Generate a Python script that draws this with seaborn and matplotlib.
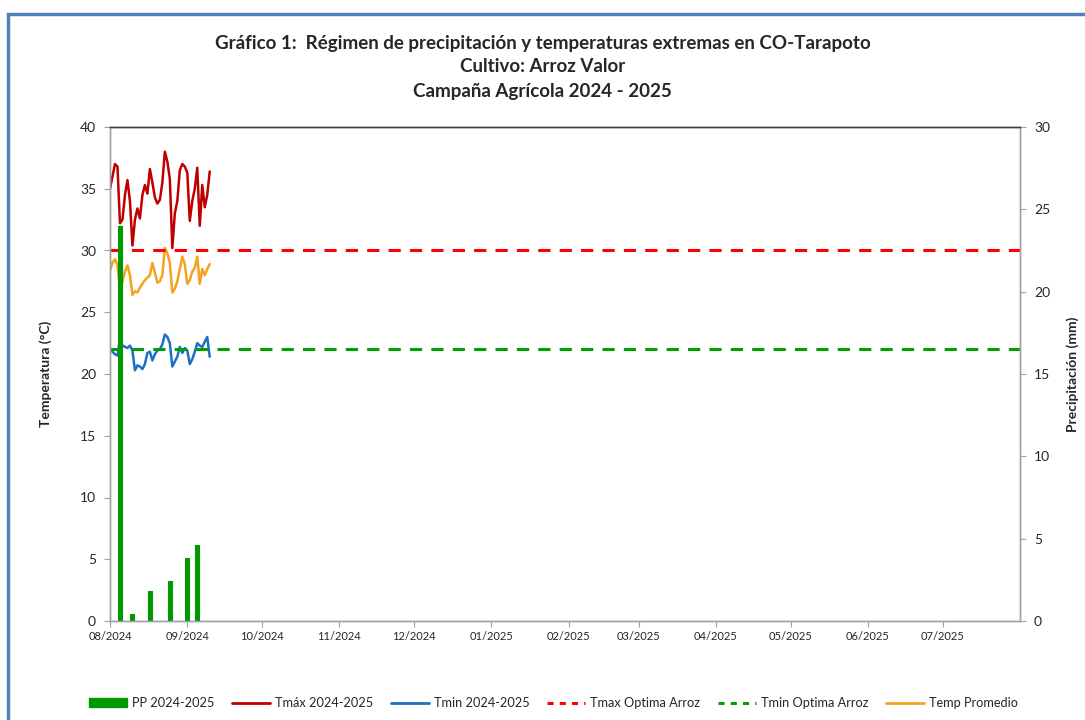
import pandas as pd
import seaborn as sns
import matplotlib.pyplot as plt
import matplotlib.dates as mdates
from matplotlib.patches import Rectangle, Patch
from matplotlib.lines import Line2D

# daily series from 01/08/2024
start_date = '2024-08-01'
tmax = [35.0, 36.0, 37.0, 36.8, 32.2, 32.5, 34.5, 35.7, 34.0, 30.4,
        32.5, 33.4, 32.6, 34.5, 35.3, 34.6, 36.6, 35.5, 34.3, 33.8,
        34.1, 35.5, 38.0, 37.2, 35.8, 30.2, 33.0, 34.0, 36.5, 37.0,
        36.8, 36.3, 32.4, 34.0, 35.0, 36.7, 32.0, 35.3, 33.5, 34.5, 36.4]
tmin = [22.0, 21.8, 21.6, 21.5, 22.8, 22.3, 22.2, 22.1, 22.3, 21.9,
        20.3, 20.7, 20.6, 20.4, 20.8, 21.7, 21.8, 21.1, 21.6, 21.9,
        22.0, 22.4, 23.2, 23.0, 22.5, 20.6, 21.0, 21.4, 22.2, 21.7,
        22.1, 21.9, 20.8, 21.2, 21.8, 22.5, 22.3, 22.2, 22.6, 23.0, 21.4]
tprom = [28.4, 29.0, 29.3, 28.8, 26.8, 27.5, 28.3, 28.8, 28.0, 26.4,
         26.7, 26.6, 27.0, 27.3, 27.6, 27.8, 28.0, 29.0, 28.2, 27.4,
         27.5, 28.0, 30.2, 29.8, 29.0, 26.6, 26.9, 27.5, 28.5, 29.5,
         28.9, 27.3, 27.6, 28.3, 28.6, 29.5, 27.3, 28.5, 28.0, 28.5, 28.9]

pp_dates = ['2024-08-05', '2024-08-10', '2024-08-17', '2024-08-25', '2024-09-01', '2024-09-05']
pp_values = [24.0, 0.45, 1.8, 2.4, 3.85, 4.6]

tmax_optima = 30
tmin_optima = 22

df = pd.DataFrame({'fecha': pd.date_range(start_date, periods=len(tmax), freq='D'),
                   'tmax': tmax, 'tmin': tmin, 'tprom': tprom})
pp = pd.DataFrame({'fecha': pd.to_datetime(pp_dates), 'pp': pp_values})

sns.set_style('white')
plt.rcParams['font.family'] = ['Lato', 'DejaVu Sans']

c_tmax = '#C00000'
c_tmin = '#1F6FC4'
c_prom = '#F5A21E'
c_pp = '#009A00'
c_red = '#FF0000'
c_green = '#00A000'

fig = plt.figure(figsize=(10.85, 7.2), dpi=100)
ax = fig.add_axes([110/1085, 1-621/720, 910/1085, 494/720])
ax2 = ax.twinx()

x0 = pd.Timestamp('2024-08-01')
x1 = pd.Timestamp('2025-08-01')

sns.lineplot(data=df, x='fecha', y='tmax', ax=ax, color=c_tmax, lw=1.8)
sns.lineplot(data=df, x='fecha', y='tmin', ax=ax, color=c_tmin, lw=1.8)
sns.lineplot(data=df, x='fecha', y='tprom', ax=ax, color=c_prom, lw=1.8)
ax.plot([x0, x1], [tmax_optima, tmax_optima], color=c_red, lw=2.2, ls=(0, (4, 3)))
ax.plot([x0, x1], [tmin_optima, tmin_optima], color=c_green, lw=2.2, ls=(0, (4, 3)))

ax2.bar(pp['fecha'], pp['pp'], width=1.6, color=c_pp, edgecolor=c_pp, lw=0.8)

ax.set_xlim(x0, x1)
ax.set_ylim(0, 40)
ax2.set_ylim(0, 30)
ax.set_yticks(range(0, 41, 5))
ax2.set_yticks(range(0, 31, 5))
ax.set_xticks(pd.date_range('2024-08-01', '2025-07-01', freq='MS'))
ax.xaxis.set_major_formatter(mdates.DateFormatter('%m/%Y'))

ax.set_xlabel('')
ax.set_ylabel('Temperatura (°C)', fontsize=10, fontweight='bold', labelpad=20)
ax2.set_ylabel('Precipitación (mm)', fontsize=10, fontweight='bold', labelpad=12)

ax.tick_params(axis='y', labelsize=10, length=4, color='#A0A0A0', direction='out', pad=6, left=True)
ax.tick_params(axis='x', labelsize=8, length=4, color='#A0A0A0', direction='out', pad=3, bottom=True)
ax2.tick_params(axis='y', labelsize=10, length=4, color='#A0A0A0', direction='out', pad=6, right=True)

for a in (ax, ax2):
    for s in ('left', 'right', 'bottom'):
        a.spines[s].set_color('#A0A0A0')
        a.spines[s].set_linewidth(1)
    a.spines['top'].set_color('#404040')
    a.spines['top'].set_linewidth(1)

fig.text(0.5, 1-43/720, 'Gráfico 1:  Régimen de precipitación y temperaturas extremas en CO-Tarapoto',
         ha='center', va='center', fontsize=13.5, fontweight='bold')
fig.text(0.5, 1-67/720, 'Cultivo: Arroz Valor', ha='center', va='center', fontsize=13.5, fontweight='bold')
fig.text(0.5, 1-91/720, 'Campaña Agrícola 2024 - 2025', ha='center', va='center', fontsize=13.5, fontweight='bold')

# blue frame
fig.patches.append(Rectangle((8/1085, -0.05), 1.1, 1-14/720+0.05, transform=fig.transFigure,
                             fill=False, edgecolor='#4F81BD', lw=2.5))

handles = [Patch(color=c_pp),
           Line2D([], [], color=c_tmax, lw=2),
           Line2D([], [], color=c_tmin, lw=2),
           Line2D([], [], color=c_red, lw=2.2, ls=(0, (2, 2))),
           Line2D([], [], color=c_green, lw=2.2, ls=(0, (2, 2))),
           Line2D([], [], color=c_prom, lw=2)]
labels = ['PP 2024-2025', 'Tmáx 2024-2025', 'Tmin 2024-2025', 'Tmax Optima Arroz',
          'Tmin Optima Arroz', 'Temp Promedio']
fig.legend(handles, labels, loc='center', bbox_to_anchor=(0.51, 1-703/720), ncol=6,
           frameon=False, fontsize=9.2, handlelength=3, handletextpad=0.35, columnspacing=1.4)

fig.savefig('out.png', dpi=100)
